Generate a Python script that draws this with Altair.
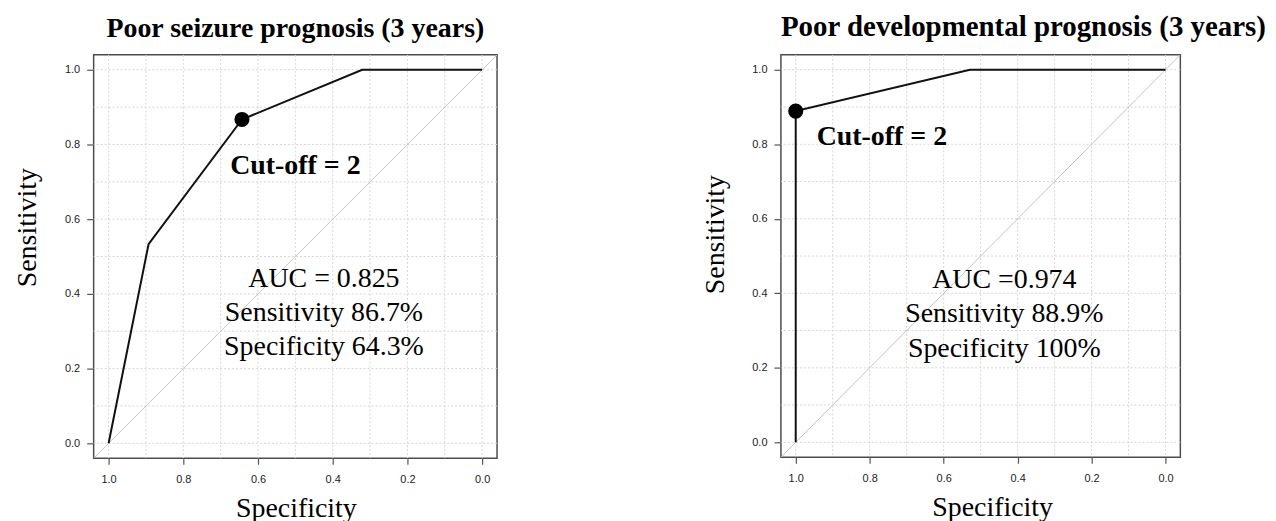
import altair as alt
import pandas as pd

# axis limits (R-style 4% expansion) and tick values
axis_lo, axis_hi = -0.04, 1.04
tick_vals = [0.0, 0.2, 0.4, 0.6, 0.8, 1.0]
grid_vals = [0.0, 0.1, 0.2, 0.3, 0.4, 0.5, 0.6, 0.7, 0.8, 0.9, 1.0]

# left panel
left_title = "Poor seizure prognosis (3 years)"
left_spec = [1.0, 0.893, 0.643, 0.321, 0.0]
left_sens = [0.0, 0.533, 0.867, 1.0, 1.0]
left_cut = [0.643, 0.867]
left_cut_label = ["Cut-off = 2"]
left_cut_at = [0.50, 0.721]
left_stats = ["AUC = 0.825", "Sensitivity 86.7%", "Specificity 64.3%"]
left_stats_spec = [0.4235, 0.4235, 0.4235]
left_stats_sens = [0.418, 0.327, 0.236]

# right panel
right_title = "Poor developmental prognosis (3 years)"
right_spec = [1.0, 1.0, 0.529, 0.0]
right_sens = [0.0, 0.889, 1.0, 1.0]
right_cut = [1.0, 0.889]
right_cut_label = ["Cut-off = 2"]
right_cut_at = [0.767, 0.799]
right_stats = ["AUC =0.974", "Sensitivity 88.9%", "Specificity 100%"]
right_stats_spec = [0.436, 0.436, 0.436]
right_stats_sens = [0.413, 0.322, 0.228]

SERIF = "Liberation Serif"
SANS = "Liberation Sans"


def panel(title, spec, sens, cut, cut_label, cut_at, stats, st_spec, st_sens,
          w, h, title_size, title_dx, title_off, ytx, yty, xtx):
    xs = alt.Scale(domain=[axis_lo, axis_hi], reverse=True, nice=False, zero=False)
    ys = alt.Scale(domain=[axis_lo, axis_hi], nice=False, zero=False)
    common = dict(values=tick_vals, format=".1f", grid=False, domain=False,
                  labelFont=SANS, labelFontSize=11, labelColor="#222222",
                  tickColor="#555555", tickWidth=1.2,
                  titleFont=SERIF, titleFontSize=28, titleFontWeight="normal",
                  titleColor="black", titleAlign="center",
                  titleBaseline="alphabetic")
    xaxis = alt.Axis(title="Specificity", tickSize=6, labelPadding=9,
                     titleX=xtx, titleY=58, **common)
    yaxis = alt.Axis(title="Sensitivity", tickSize=7, labelPadding=7,
                     titleX=ytx, titleY=yty, titleAngle=270, **common)
    X = lambda: alt.X("x:Q", scale=xs, axis=xaxis)
    Y = lambda: alt.Y("y:Q", scale=ys, axis=yaxis)

    gdf = pd.DataFrame({"x": grid_vals, "y": grid_vals})
    grid_v = alt.Chart(gdf).mark_rule(color="#d6d6d6", strokeDash=[2, 2],
                                      strokeWidth=1).encode(x=X())
    grid_h = alt.Chart(gdf).mark_rule(color="#d6d6d6", strokeDash=[2, 2],
                                      strokeWidth=1).encode(y=Y())
    ddf = pd.DataFrame({"x": [axis_hi, axis_lo], "y": [axis_lo, axis_hi]})
    diag = alt.Chart(ddf).mark_line(color="#c4c4c4", strokeWidth=1,
                                    clip=True).encode(x=X(), y=Y())
    rdf = pd.DataFrame({"x": spec, "y": sens, "i": list(range(len(spec)))})
    roc = alt.Chart(rdf).mark_line(color="#111111", strokeWidth=2).encode(
        x=X(), y=Y(), order="i:Q")
    cdf = pd.DataFrame({"x": [cut[0]], "y": [cut[1]]})
    pt = alt.Chart(cdf).mark_point(filled=True, color="black", opacity=1,
                                   size=230).encode(x=X(), y=Y())
    ldf = pd.DataFrame({"x": [cut_at[0]], "y": [cut_at[1]], "t": cut_label})
    lab = alt.Chart(ldf).mark_text(font=SERIF, fontSize=28, fontWeight="bold",
                                   align="center", baseline="alphabetic",
                                   color="black").encode(x=X(), y=Y(), text="t:N")
    sdf = pd.DataFrame({"x": st_spec, "y": st_sens, "t": stats})
    st = alt.Chart(sdf).mark_text(font=SERIF, fontSize=28, align="center",
                                  baseline="alphabetic",
                                  color="black").encode(x=X(), y=Y(), text="t:N")
    return alt.layer(grid_v, grid_h, diag, roc, pt, lab, st).properties(
        width=w, height=h,
        title=alt.TitleParams(title, font=SERIF, fontSize=title_size,
                              fontWeight="bold", anchor="middle",
                              baseline="alphabetic", frame="group",
                              offset=title_off, dx=title_dx, color="black"))


left = panel(left_title, left_spec, left_sens, left_cut, left_cut_label,
             left_cut_at, left_stats, left_stats_spec, left_stats_sens,
             405, 405, 28, 0, -11, -58, 173, 203)
right = panel(right_title, right_spec, right_sens, right_cut, right_cut_label,
              right_cut_at, right_stats, right_stats_spec, right_stats_sens,
              401, 404, 29, 43, -11, -58, 180, 212)

chart = alt.hconcat(left, right, spacing=285, bounds="flush").properties(
    padding={"left": 5, "top": 3, "right": 0, "bottom": 0},
    background="white"
).configure_view(stroke="#4d4d4d", strokeWidth=1.5)

chart.save("out.html", embed_options={"renderer": "svg", "actions": False})
